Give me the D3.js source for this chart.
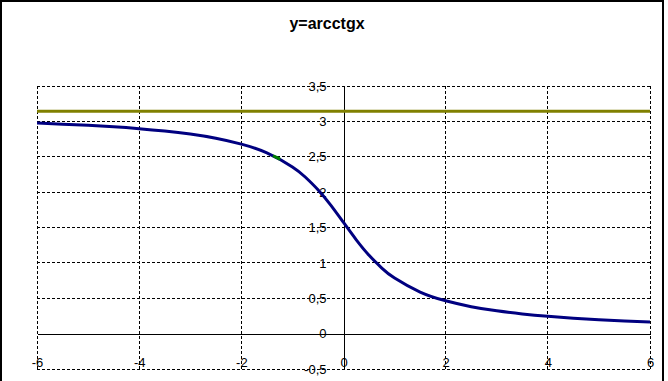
<!DOCTYPE html>
<html>
<head>
<meta charset="utf-8">
<script src="https://cdn.jsdelivr.net/npm/d3@7"></script>
<style>
  body { margin: 0; background: #fff; }
  text { font-family: "Liberation Sans", Arial, sans-serif; }
</style>
</head>
<body>
<div id="chart"></div>
<script>
// data
const xValues = [-6, -5.5, -5, -4.5, -4, -3.5, -3, -2.5, -2, -1.5, -1, -0.75, -0.5, -0.25,
  0, 0.25, 0.5, 0.75, 1, 1.5, 2, 2.5, 3, 3.5, 4, 4.5, 5, 5.5, 6];
const yValues = [2.976, 2.961, 2.944, 2.924, 2.897, 2.863, 2.820, 2.761, 2.678, 2.554, 2.356, 2.214, 2.034, 1.816,
  1.571, 1.326, 1.107, 0.927, 0.785, 0.588, 0.464, 0.381, 0.322, 0.278, 0.245, 0.219, 0.197, 0.180, 0.165];
const piX = [-6, 6];
const piY = [3.1416, 3.1416];
const greenX = [-1.38, -1.31, -1.24];
const greenY = [2.515, 2.490, 2.463];
const xTicks = [-6, -4, -2, 0, 2, 4, 6];
const yTicks = [-0.5, 0, 0.5, 1, 1.5, 2, 2.5, 3, 3.5];
const title = 'y=arcctgx';

const W = 668, H = 381;
const svg = d3.select('#chart').append('svg')
  .attr('width', W).attr('height', H);

// outer frame
svg.append('rect')
  .attr('x', 1).attr('y', 1).attr('width', 662).attr('height', 420)
  .attr('fill', 'none').attr('stroke', '#000').attr('stroke-width', 2);

svg.append('text')
  .attr('x', 327).attr('y', 29)
  .attr('text-anchor', 'middle')
  .style('font-size', '16px').style('font-weight', 'bold')
  .text(title);

const x = d3.scaleLinear().domain([-6, 6]).range([37, 650]);
const y = d3.scaleLinear().domain([-0.5, 3.5]).range([369, 86]);

const loc = d3.formatLocale({ decimal: ',', thousands: ' ', grouping: [3], currency: ['', ''], minus: '-' });
const fmt = loc.format('~g');

// grid
const grid = svg.append('g').attr('stroke', '#000').attr('stroke-width', 1)
  .attr('stroke-dasharray', '3,2').attr('shape-rendering', 'crispEdges');
grid.selectAll('.hy').data(yTicks.filter(d => d !== 0)).enter().append('line')
  .attr('x1', x(-6)).attr('x2', x(6))
  .attr('y1', d => y(d)).attr('y2', d => y(d));
grid.selectAll('.vx').data(xTicks.filter(d => d !== 0)).enter().append('line')
  .attr('y1', y(3.5)).attr('y2', y(-0.5))
  .attr('x1', d => x(d)).attr('x2', d => x(d));

// axes
const yAxis = svg.append('g')
  .attr('transform', `translate(${x(0)},0)`)
  .call(d3.axisLeft(y).tickValues(yTicks).tickSize(0).tickPadding(17).tickFormat(fmt));
yAxis.select('.domain').attr('stroke', '#000').attr('shape-rendering', 'crispEdges');
yAxis.selectAll('text').attr('fill', '#000').style('font-size', '13px')
  .style('font-family', '"Liberation Sans", Arial, sans-serif');

const xAxis = svg.append('g')
  .attr('transform', `translate(0,${y(0)})`)
  .call(d3.axisBottom(x).tickValues(xTicks).tickSize(0).tickPadding(24).tickFormat(fmt));
xAxis.select('.domain').attr('stroke', '#000').attr('shape-rendering', 'crispEdges');
xAxis.selectAll('text').attr('fill', '#000').style('font-size', '13px')
  .style('font-family', '"Liberation Sans", Arial, sans-serif');

// series
const line = d3.line().x(d => x(d[0])).y(d => y(d[1])).curve(d3.curveNatural);

svg.append('path')
  .datum(d3.zip(piX, piY))
  .attr('d', d3.line().x(d => x(d[0])).y(d => y(d[1])))
  .attr('fill', 'none').attr('stroke', '#808000').attr('stroke-width', 3);

svg.append('path')
  .datum(d3.zip(xValues, yValues))
  .attr('d', line)
  .attr('fill', 'none').attr('stroke', '#000080').attr('stroke-width', 3);

svg.append('path')
  .datum(d3.zip(greenX, greenY))
  .attr('d', line)
  .attr('fill', 'none').attr('stroke', '#008000').attr('stroke-width', 3);
</script>
</body>
</html>
